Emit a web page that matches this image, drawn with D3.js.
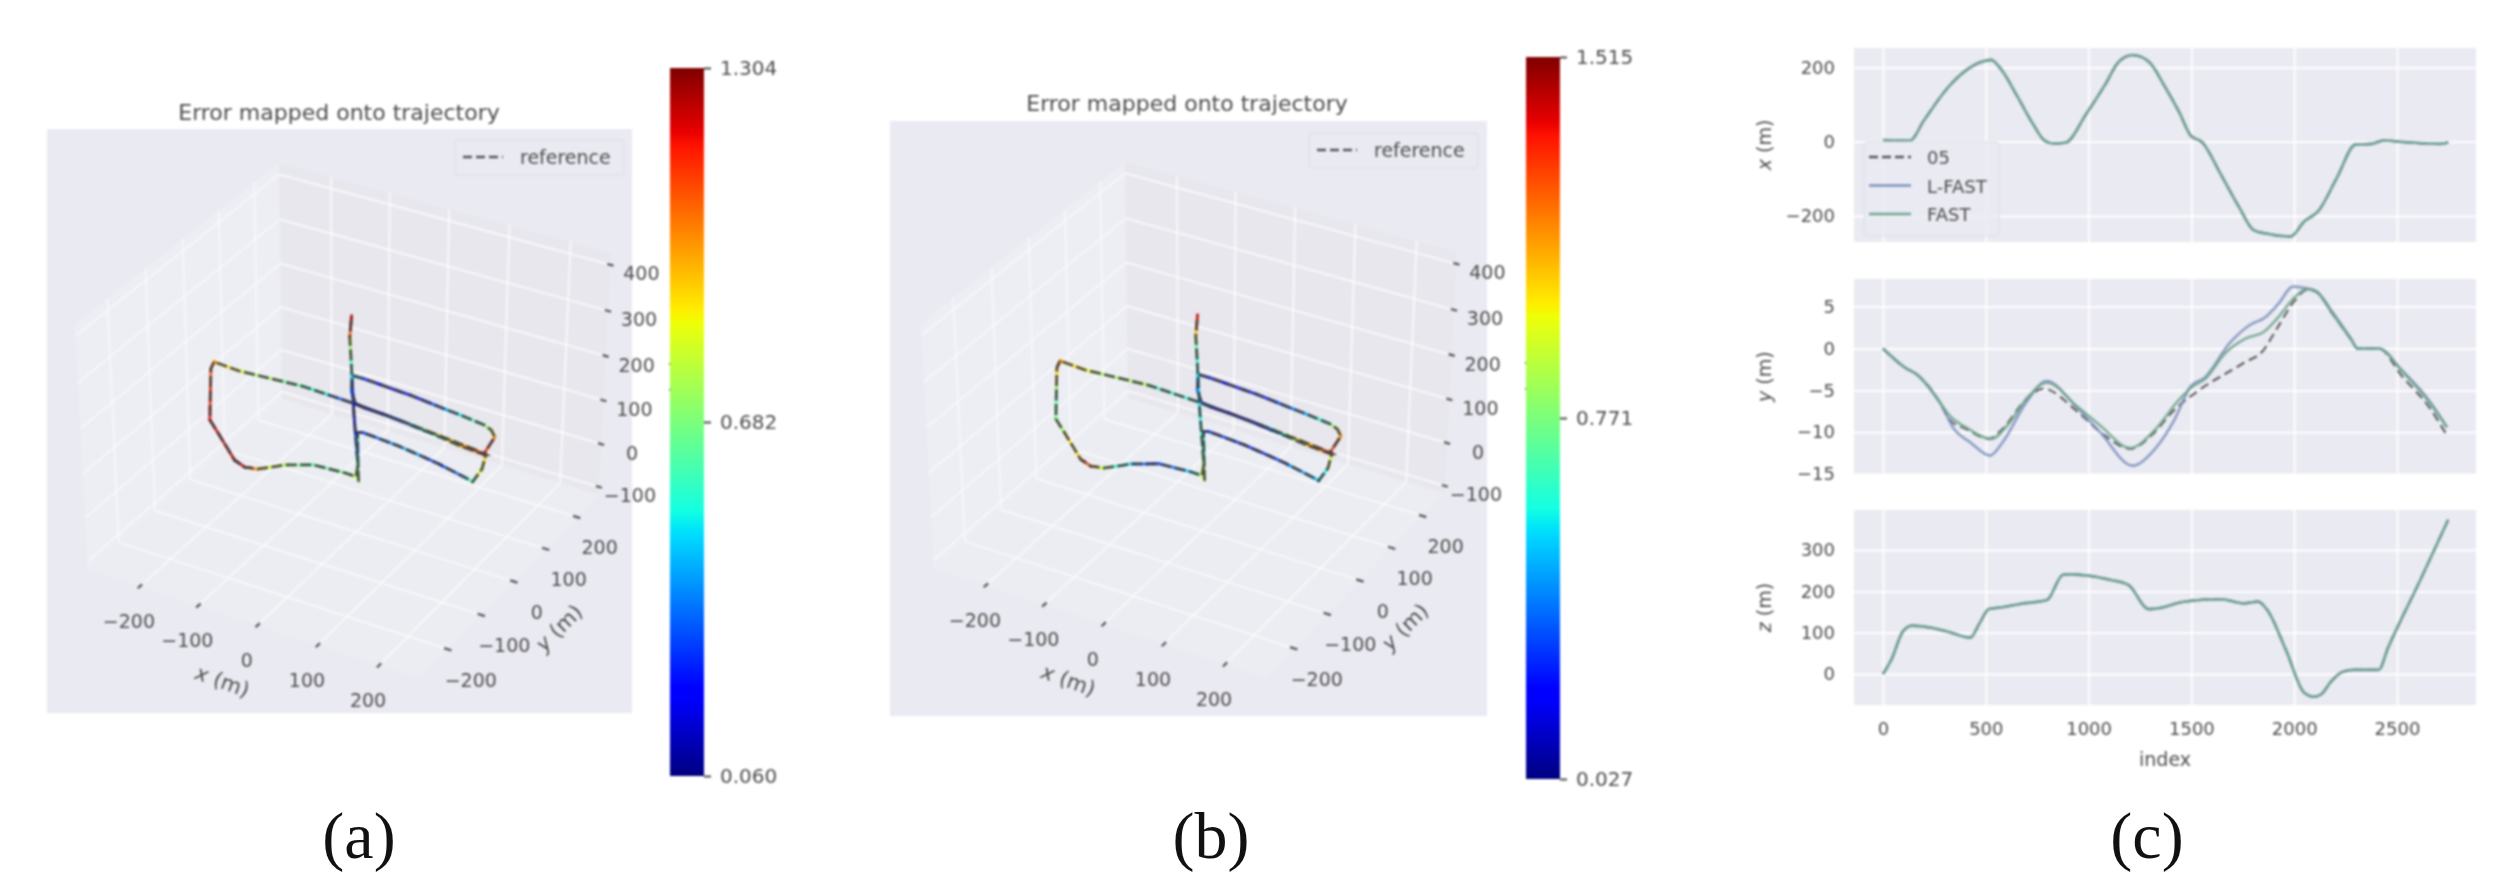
<!doctype html>
<meta charset="utf-8">
<title>Error mapped onto trajectory</title>
<script src="https://cdn.jsdelivr.net/npm/d3@7"></script>
<style>
html, body { margin: 0; background: #fff; }
text { font-family: "DejaVu Sans", sans-serif; fill: #4d4d4d; }
.soft { filter: blur(0.9px); }
.caption { font-family: "Liberation Serif", serif; font-size: 66px; fill: #111; text-anchor: middle; }
.grid .domain { display: none; }
.grid line { stroke: #fff; stroke-width: 1.8; }
.grid text { font-size: 18px; }
.cbar .domain { display: none; }
.cbar line { stroke: #4d4d4d; stroke-width: 2; }
.cbar text { font-size: 20px; }
</style>
<body>
<svg width="2508" height="886"></svg>
<script>
// trajectory: index -> metres
var xIndex = [0,131,199,312,402,470,526,571,650,729,786,831,887,989,1079,1147,1214,1293,1372,1440,1497,1553,1643,1734,1801,1869,1982,2050,2117,2208,2298,2377,2433,2546,2704,2749];
var xValues = [4,3,57,143,191,213,220,197,125,48,3,-5,-3,75,152,215,233,215,147,80,16,-2,-88,-178,-237,-248,-255,-214,-187,-97,-8,-6,3,-2,-6,-2];

var yRefIndex = [0,108,165,278,323,402,515,582,695,781,944,1079,1203,1305,1418,1519,1756,1847,1914,2005,2061,2106,2185,2276,2309,2411,2524,2659,2743];
var yRefValues = [0,-2.3,-3.1,-6.5,-8.5,-9.6,-10.8,-9.6,-6.1,-4.8,-7.5,-10.4,-12,-10.4,-7.3,-5.3,-1.7,-0.3,2.3,5.8,7,6.8,4.2,1.1,0,0,-3.3,-7.1,-10.4];
var yFastIndex = [0,108,165,278,323,402,526,605,695,797,944,1056,1203,1327,1440,1508,1564,1666,1756,1858,1914,2005,2061,2106,2185,2276,2309,2411,2524,2659,2743];
var yFastValues = [0,-2.3,-3.1,-6.5,-8,-9.4,-10.8,-9.2,-6.1,-4.1,-6.9,-9.2,-11.9,-9.6,-6.1,-4.5,-3.7,-0.5,1.1,2.1,3.5,6.2,7.1,6.8,4.2,1.1,0,0,-2.7,-6.5,-9.4];
var yLFastIndex = [0,108,165,278,345,424,521,582,695,797,944,1056,1214,1316,1418,1497,1564,1688,1790,1858,1925,1993,2061,2106,2185,2276,2309,2411,2524,2659,2743];
var yLFastValues = [0,-2.3,-3.1,-6.5,-9.6,-11.2,-12.8,-11.2,-6.5,-3.9,-7.1,-10,-14,-12.2,-8.5,-4.5,-3.5,0.7,2.9,3.7,5.4,7.4,7.2,6.9,4.4,1.2,0,0,-2.6,-6.3,-9.4];

var zIndex = [0,41,97,142,221,312,424,470,515,571,673,797,876,910,1011,1102,1192,1293,1339,1463,1643,1756,1824,1869,1959,2050,2095,2129,2180,2230,2287,2411,2456,2614,2749];
var zValues = [0,35,103,117,113,103,88,123,157,161,170,179,240,241,237,228,216,157,159,175,181,171,175,155,59,-46,-55,-50,-18,4,10,10,63,228,373];

// colour along the trajectory
var errIndexA = [0,60,131,250,320,390,450,520,560,650,700,786,876,950,1050,1120,1190,1230,1293,1340,1400,1470,1553,1600,1680,1760,1830,1900,1982,2095,2150,2220,2300,2411,2456,2501,2566,2625,2692,2720,2749];
var errValuesA = [0.8,0.55,0.25,0.45,0.2,0.45,0.8,0.95,1.15,0.85,0.5,0.12,0.5,0.15,0.25,0.55,0.8,1.1,1.2,0.9,0.5,0.12,0.12,0.5,0.68,0.85,1.0,1.12,1.2,1.25,0.85,0.6,0.7,0.8,0.5,0.2,0.1,0.5,0.8,1.2,1.25];
var errIndexB = [0,60,131,250,320,390,430,470,526,560,620,680,786,876,950,1050,1120,1190,1230,1293,1340,1400,1470,1553,1640,1740,1830,1869,1920,1982,2060,2095,2150,2220,2300,2411,2501,2566,2625,2692,2720,2749];
var errValuesB = [0.95,0.65,0.3,0.25,0.3,0.55,0.45,0.7,1.25,1.3,1.0,0.3,0.12,0.35,0.2,0.25,0.5,0.95,1.25,1.35,1.0,0.3,0.1,0.5,0.75,0.95,1.15,1.3,0.7,0.75,1.25,1.3,0.7,0.2,0.6,0.95,0.6,0.55,0.55,0.75,1.2,1.4];

var xyTicks = [-200,-100,0,100,200];
var zTicks = [-100,0,100,200,300,400];
var indexTicks = [0,500,1000,1500,2000,2500];
var seriesNames = ["05","L-FAST","FAST"];
var seriesColors = ["#555","#7d90bd","#6fa58c"];

// matplotlib's jet
var jetStops = [0,0.11,0.125,0.34,0.35,0.375,0.64,0.65,0.66,0.89,0.91,1];
var jetColors = ["#000080","#0000ff","#0000ff","#00dbff","#00e6f7","#14ffe2","#eeff08","#f7f500","#ffec00","#ff1300","#e80000","#800000"];
var jet = d3.scaleLinear().domain(jetStops).range(jetColors);

var svg = d3.select("svg");
var defs = svg.append("defs");
var grad = defs.append("linearGradient").attr("id", "jet")
  .attr("x1", 0).attr("y1", 1).attr("x2", 0).attr("y2", 0);
jetStops.forEach(function(s, i) {
  grad.append("stop").attr("offset", s).attr("stop-color", jetColors[i]);
});

// 3D axes limits and camera
var xLim = [-290,265], yLim = [-283,272], zLim = [-118,425];
var center3d = [-12.5,-5.5,159.5];
var range3d = 555, zAspect = 0.875, camDist = 10;
var az = -60 * Math.PI / 180, el = 35 * Math.PI / 180;
var right3d = [-Math.sin(az), Math.cos(az), 0];
var up3d = [-Math.sin(el) * Math.cos(az), -Math.sin(el) * Math.sin(az), Math.cos(el)];
var view3d = [Math.cos(el) * Math.cos(az), Math.cos(el) * Math.sin(az), Math.sin(el)];
function dot(a, b) { return a[0] * b[0] + a[1] * b[1] + a[2] * b[2]; }

function projector(cx, cy) {
  var sx = d3.scaleLinear().domain([0, 1]).range([cx, cx + 383]);
  var sy = d3.scaleLinear().domain([0, 1]).range([cy, cy - 347]);
  return function(x, y, z) {
    var p = [(x - center3d[0]) / range3d, (y - center3d[1]) / range3d, (z - center3d[2]) / range3d * zAspect];
    var f = camDist / (camDist - dot(p, view3d));
    return [sx(dot(p, right3d) * f), sy(dot(p, up3d) * f)];
  };
}

function trajectoryPanel(o) {
  var g = svg.append("g").attr("class", "soft");
  var pr = projector(o.cx, o.cy);
  var line = d3.line();

  g.append("rect").attr("x", o.left).attr("y", o.top)
    .attr("width", o.right - o.left).attr("height", o.bottom - o.top).attr("fill", "#eaeaf2");

  g.append("text").attr("x", o.titleX).attr("y", o.titleY).attr("text-anchor", "middle")
    .attr("font-size", 22).text("Error mapped onto trajectory");

  // panes
  var x0 = xLim[0], x1 = xLim[1], y0 = yLim[0], y1 = yLim[1], z0 = zLim[0], z1 = zLim[1];
  var panes = [
    {c: "#edeef4", p: [[x0,y0,z0],[x0,y1,z0],[x0,y1,z1],[x0,y0,z1]]},
    {c: "#e7e7ed", p: [[x0,y1,z0],[x1,y1,z0],[x1,y1,z1],[x0,y1,z1]]},
    {c: "#ecedf2", p: [[x0,y0,z0],[x1,y0,z0],[x1,y1,z0],[x0,y1,z0]]}
  ];
  g.selectAll(".pane").data(panes).enter().append("path").attr("class", "pane")
    .attr("fill", function(d) { return d.c; })
    .attr("d", function(d) { return line(d.p.map(function(q) { return pr(q[0], q[1], q[2]); })) + "Z"; });

  // grid lines on the panes, fainter on the left wall and the floor
  var gridLines = [];
  xyTicks.forEach(function(t) {
    gridLines.push({o: 0.6, p: [[t,y0,z0],[t,y1,z0]]}, {o: 0.8, p: [[t,y1,z0],[t,y1,z1]]});
    gridLines.push({o: 0.6, p: [[x0,t,z0],[x1,t,z0]]}, {o: 0.5, p: [[x0,t,z0],[x0,t,z1]]});
  });
  zTicks.forEach(function(t) {
    gridLines.push({o: 0.5, p: [[x0,y0,t],[x0,y1,t]]}, {o: 0.8, p: [[x0,y1,t],[x1,y1,t]]});
  });
  g.selectAll(".g3").data(gridLines).enter().append("path").attr("class", "g3")
    .attr("fill", "none").attr("stroke", "#fff").attr("stroke-width", 1.8)
    .attr("stroke-opacity", function(d) { return d.o; })
    .attr("d", function(d) { return line(d.p.map(function(q) { return pr(q[0], q[1], q[2]); })); });

  // tick marks and labels
  var tickData = [];
  xyTicks.forEach(function(t) {
    tickData.push({a: [t,y0-6,z0], b: [t,y0+6,z0], at: [t,y0,z0], off: [-11,36], s: t});
    tickData.push({a: [x1-6,t,z0], b: [x1+6,t,z0], at: [x1,t,z0], off: [23,32], s: t});
  });
  zTicks.forEach(function(t) {
    tickData.push({a: [x1-5,y1,t], b: [x1+5,y1,t], at: [x1,y1,t], off: [31,10], s: t});
  });
  g.selectAll(".tk").data(tickData).enter().append("path").attr("class", "tk")
    .attr("stroke", "#555").attr("stroke-width", 2.2)
    .attr("d", function(d) {
      return line([pr(d.a[0], d.a[1], d.a[2]), pr(d.b[0], d.b[1], d.b[2])]);
    });
  var fmt = d3.format("d");
  g.selectAll(".tl").data(tickData).enter().append("text").attr("class", "tl")
    .attr("text-anchor", "middle").attr("dominant-baseline", "middle").attr("font-size", 19)
    .attr("x", function(d) { return pr(d.at[0], d.at[1], d.at[2])[0] + d.off[0]; })
    .attr("y", function(d) { return pr(d.at[0], d.at[1], d.at[2])[1] + d.off[1]; })
    .text(function(d) { return fmt(d.s).replace("-", "\u2212"); });

  // axis names; z sits half under the colour bar
  [["x", o.cx - 127, o.cy + 278, 20], ["y", o.cx + 217, o.cy + 223, -45], ["z", o.cbX + 2, o.cy - 42, 90]].forEach(function(a) {
    var t = g.append("text").attr("font-size", 21).attr("text-anchor", "middle")
      .attr("transform", "translate(" + a[1] + "," + a[2] + ") rotate(" + a[3] + ")");
    t.append("tspan").attr("font-style", "italic").text(a[0]);
    t.append("tspan").text(" (m)");
  });

  // trajectory, coloured by error with the dashed reference on top
  var lx = d3.scaleLinear().domain(xIndex).range(xValues);
  var ly = d3.scaleLinear().domain(yRefIndex).range(yRefValues);
  var lz = d3.scaleLinear().domain(zIndex).range(zValues);
  var le = d3.scaleLinear().domain(o.errIndex).range(o.errValues);
  var norm = d3.scaleLinear().domain([o.min, o.max]).range([0, 1]);
  var ids = Array.from(new Set(xIndex.concat(zIndex, yRefIndex, o.errIndex)))
    .filter(function(i) { return i <= 2749; }).sort(d3.ascending);
  var pts = ids.map(function(i) { return pr(lx(i), ly(i), lz(i)); });
  g.selectAll(".seg").data(d3.pairs(ids)).enter().append("path").attr("class", "seg")
    .attr("fill", "none").attr("stroke-width", 3).attr("stroke-opacity", 0.8).attr("stroke-linecap", "round")
    .attr("stroke", function(d) { return jet(norm(le((d[0] + d[1]) / 2))); })
    .attr("d", function(d) { return line([pts[ids.indexOf(d[0])], pts[ids.indexOf(d[1])]]); });
  g.append("path").attr("fill", "none").attr("stroke", "#404040").attr("stroke-width", 2.8)
    .attr("stroke-opacity", 0.9).attr("stroke-dasharray", "11,3.5").attr("d", line(pts));

  // legend
  var lg = g.append("g");
  lg.append("rect").attr("x", o.legX).attr("y", o.legY).attr("width", 169).attr("height", 35).attr("rx", 3)
    .attr("fill", "#eaeaf2").attr("fill-opacity", 0.8).attr("stroke", "#dcdce6");
  lg.append("line").attr("x1", o.legX + 8).attr("x2", o.legX + 48).attr("y1", o.legY + 17).attr("y2", o.legY + 17)
    .attr("stroke", "#555").attr("stroke-width", 2.4).attr("stroke-dasharray", "9,4");
  lg.append("text").attr("x", o.legX + 65).attr("y", o.legY + 24).attr("font-size", 19).text("reference");

  // colour bar
  var cs = d3.scaleLinear().domain([o.min, o.max]).range([o.cbBottom, o.cbTop]);
  g.append("rect").attr("x", o.cbX).attr("y", o.cbTop).attr("width", 34)
    .attr("height", o.cbBottom - o.cbTop).attr("fill", "url(#jet)");
  g.append("g").attr("class", "cbar").attr("transform", "translate(" + (o.cbX + 34) + ",0)")
    .call(d3.axisRight(cs).tickValues([o.min, o.mid, o.max]).tickFormat(d3.format(".3f")).tickSize(7).tickPadding(9));
}

trajectoryPanel({
  left: 47, right: 632, top: 129, bottom: 713, cx: 347, cy: 410, titleX: 339, titleY: 120,
  legX: 455, legY: 140, cbX: 670, cbTop: 68, cbBottom: 776,
  min: 0.060, mid: 0.682, max: 1.304, errIndex: errIndexA, errValues: errValuesA
});
trajectoryPanel({
  left: 890, right: 1487, top: 121, bottom: 716, cx: 1193, cy: 409, titleX: 1187, titleY: 111,
  legX: 1309, legY: 133, cbX: 1526, cbTop: 57, cbBottom: 779,
  min: 0.027, mid: 0.771, max: 1.515, errIndex: errIndexB, errValues: errValuesB
});

// panel (c)
var cLeft = 1854, cRight = 2476;
var indexScale = d3.scaleLinear().domain([0, 2500]).range([1883, 2397]);
var cg = svg.append("g").attr("class", "soft");

function linePanel(o) {
  var y = d3.scaleLinear().domain(o.dom).range(o.rng);
  cg.append("rect").attr("x", cLeft).attr("y", o.top).attr("width", cRight - cLeft)
    .attr("height", o.bottom - o.top).attr("fill", "#eaeaf2");
  var xa = d3.axisBottom(indexScale).tickValues(indexTicks).tickSize(o.top - o.bottom).tickPadding(17)
    .tickFormat(o.showIndex ? d3.format("d") : "");
  cg.append("g").attr("class", "grid").attr("transform", "translate(0," + o.bottom + ")").call(xa);
  cg.append("g").attr("class", "grid").attr("transform", "translate(" + cLeft + ",0)")
    .call(d3.axisLeft(y).tickValues(o.ticks).tickSize(cLeft - cRight).tickPadding(19));
  o.series.forEach(function(s, i) {
    var line = d3.line().curve(d3.curveMonotoneX).x(function(d) { return indexScale(d); })
      .y(function(d, k) { return y(s[1][k]); });
    cg.append("path").attr("fill", "none").attr("stroke", seriesColors[i])
      .attr("stroke-width", i === 0 ? 2.2 : 2.6).attr("stroke-opacity", i === 0 ? 0.9 : 0.85)
      .attr("stroke-dasharray", i === 0 ? "9,5" : null).attr("d", line(s[0]));
  });
  var lab = cg.append("text").attr("font-size", 19).attr("text-anchor", "middle")
    .attr("transform", "translate(1771," + (o.top + o.bottom) / 2 + ") rotate(-90)");
  lab.append("tspan").attr("font-style", "italic").text(o.name);
  lab.append("tspan").text(" (m)");
}

linePanel({ top: 48, bottom: 242, dom: [-200, 200], rng: [216, 67.3], ticks: [-200, 0, 200], name: "x",
  series: [[xIndex, xValues], [xIndex, xValues], [xIndex, xValues]] });
linePanel({ top: 279, bottom: 474.5, dom: [-15, 5], rng: [474, 306.7], ticks: [-15, -10, -5, 0, 5], name: "y",
  series: [[yRefIndex, yRefValues], [yLFastIndex, yLFastValues], [yFastIndex, yFastValues]] });
linePanel({ top: 510, bottom: 705, dom: [0, 300], rng: [674, 550], ticks: [0, 100, 200, 300], name: "z", showIndex: true,
  series: [[zIndex, zValues], [zIndex, zValues], [zIndex, zValues]] });

cg.append("text").attr("x", 2165).attr("y", 766).attr("text-anchor", "middle").attr("font-size", 19).text("index");

// legend of panel (c)
var lgc = cg.append("g");
lgc.append("rect").attr("x", 1864).attr("y", 142).attr("width", 135).attr("height", 94).attr("rx", 3)
  .attr("fill", "#eaeaf2").attr("fill-opacity", 0.8).attr("stroke", "#dcdce6");
seriesNames.forEach(function(n, i) {
  var ly = 157 + i * 28.5;
  lgc.append("line").attr("x1", 1869).attr("x2", 1911).attr("y1", ly).attr("y2", ly)
    .attr("stroke", seriesColors[i]).attr("stroke-width", 2.4).attr("stroke-dasharray", i === 0 ? "9,4" : null);
  lgc.append("text").attr("x", 1927).attr("y", ly + 7).attr("font-size", 18).text(n);
});

// sub-figure captions
[["(a)", 359, 858], ["(b)", 1211, 858], ["(c)", 2147, 858]].forEach(function(c) {
  svg.append("text").attr("class", "caption").attr("x", c[1]).attr("y", c[2]).text(c[0]);
});
</script>
</body>
